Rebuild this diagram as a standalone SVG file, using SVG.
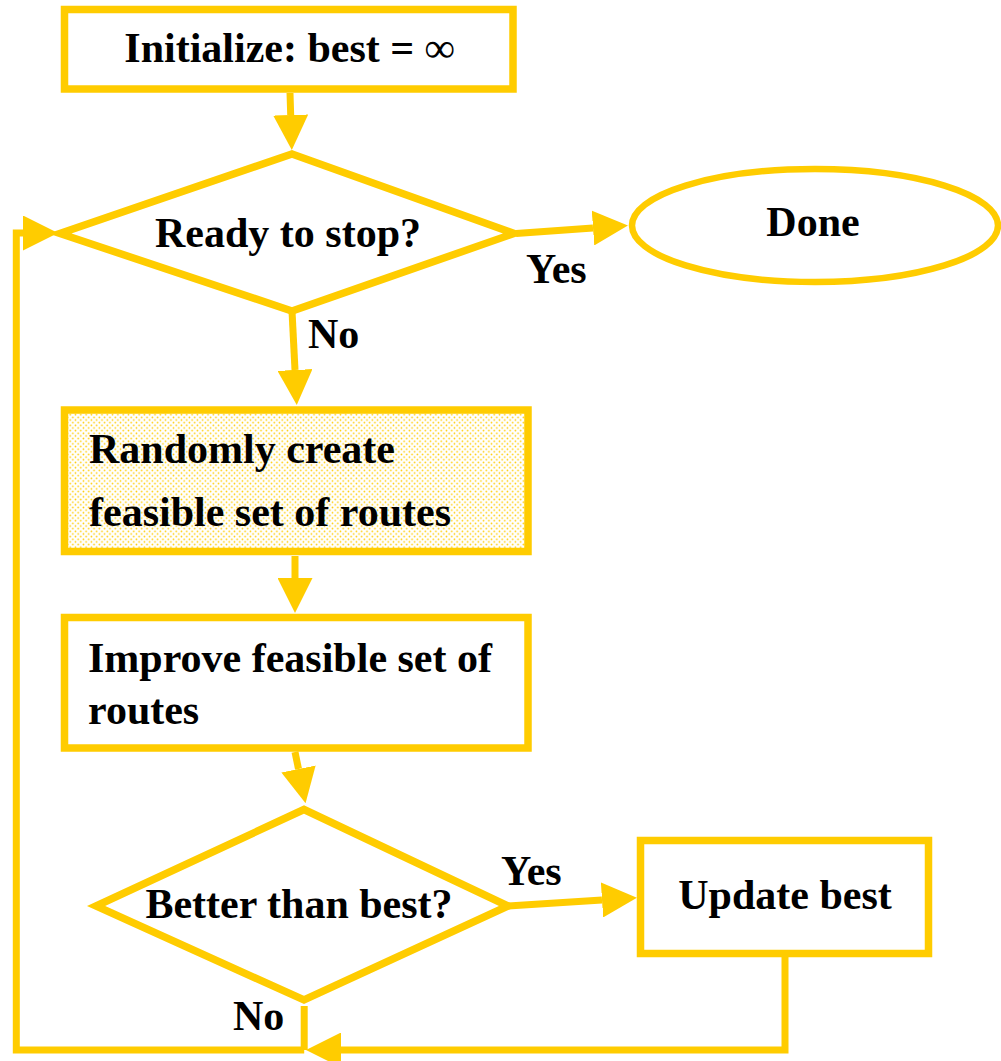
<svg xmlns="http://www.w3.org/2000/svg" width="1001" height="1061" viewBox="0 0 1001 1061">
  <style>
    .shape { fill: #ffffff; stroke: #ffcc00; stroke-width: 7.5; stroke-linejoin: miter; stroke-miterlimit: 20; }
    .dotted { fill: url(#dots); }
    .wire { fill: none; stroke: #ffcc00; stroke-width: 7; stroke-linejoin: miter; marker-end: url(#head); }
    .wire-plain { fill: none; stroke: #ffcc00; stroke-width: 7; stroke-linejoin: miter; }
    text { font-family: "Liberation Serif", "Times New Roman", serif; font-weight: bold; font-size: 42px; fill: #000000; }
    .mid { text-anchor: middle; }
  </style>
  <defs>
    <pattern id="dots" width="5.3" height="5.3" patternUnits="userSpaceOnUse">
      <rect width="5.3" height="5.3" fill="#ffffff"/>
      <circle cx="1.3" cy="1.3" r="0.85" fill="#ffcc00"/>
      <circle cx="3.95" cy="3.95" r="0.85" fill="#ffcc00"/>
    </pattern>
    <marker id="head" viewBox="0 0 35 35" refX="0" refY="17.5" markerWidth="35" markerHeight="35" markerUnits="userSpaceOnUse" orient="auto">
      <path d="M0,0 L35,17.5 L0,35 Z" fill="#ffcc00"/>
    </marker>
  </defs>

  <!-- connectors -->
  <g id="connectors">
    <path class="wire" d="M290,93 L290.7,115"/>
    <path class="wire" d="M516,233.5 L593,228"/>
    <path class="wire" d="M292,311 L295,370"/>
    <path class="wire" d="M295,556 L295,578"/>
    <path class="wire" d="M295,752 L298.5,769"/>
    <path class="wire" d="M508,906 L602,900"/>
    <path class="wire-plain" d="M304.2,1006 L304.2,1050"/>
    <path class="wire" d="M304.2,1050 L16.3,1050 L16.3,233 L23,233"/>
    <path class="wire" d="M785,957 L785,1050 L341,1050"/>
  </g>

  <!-- start -->
  <g id="init">
    <rect class="shape" x="64.5" y="9.5" width="448.5" height="79.5"/>
    <text class="mid" x="289.5" y="62">Initialize: best = ∞</text>
  </g>

  <!-- stop test -->
  <g id="ready">
    <polygon class="shape" points="292,154 514,233.5 292,311 60,233.5"/>
    <text class="mid" x="288" y="247">Ready to stop?</text>
  </g>

  <g id="done">
    <ellipse class="shape" cx="815" cy="225.5" rx="183" ry="56.5" style="stroke-width:6.5"/>
    <text class="mid" x="813" y="236">Done</text>
  </g>

  <g id="randomly">
    <rect class="shape dotted" x="64.5" y="410" width="463.5" height="141.5"/>
    <text x="89" y="463">Randomly create</text>
    <text x="89" y="526">feasible set of routes</text>
  </g>

  <g id="improve">
    <rect class="shape" x="64.5" y="617.5" width="463.5" height="130.5"/>
    <text x="88" y="672">Improve feasible set of</text>
    <text x="88" y="724">routes</text>
  </g>

  <!-- comparison -->
  <g id="better">
    <polygon class="shape" points="304,809.5 508,906 304,1000 96,906"/>
    <text class="mid" x="299" y="918">Better than best?</text>
  </g>

  <g id="update">
    <rect class="shape" x="640.5" y="840.5" width="288" height="113"/>
    <text class="mid" x="785" y="909">Update best</text>
  </g>

  <!-- branch labels -->
  <g id="labels">
    <text x="526" y="283">Yes</text>
    <text x="308" y="348">No</text>
    <text x="501" y="885">Yes</text>
    <text x="233" y="1030">No</text>
  </g>
</svg>
